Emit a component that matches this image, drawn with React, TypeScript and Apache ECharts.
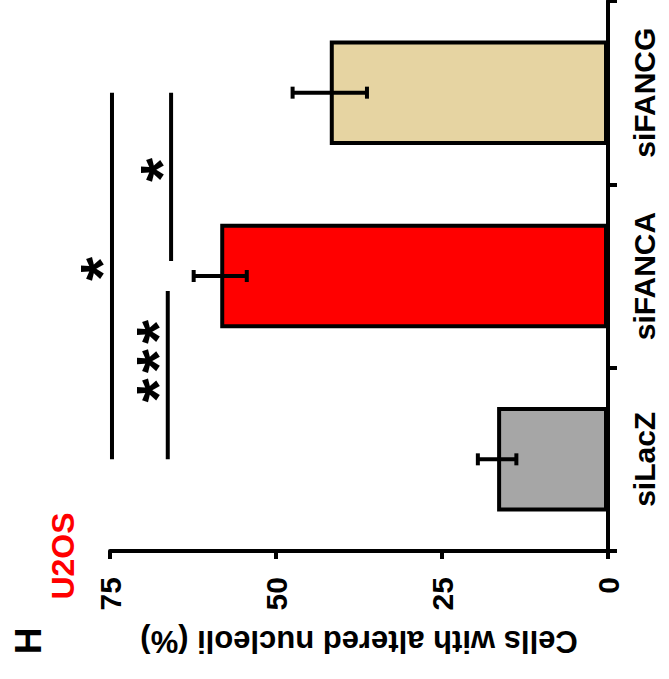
import React, { useEffect, useRef } from "react";
import * as echarts from "echarts";

const categories = ["siLacZ", "siFANCA", "siFANCG"];
const means = [16.7, 58.4, 41.9];
const errors = [2.9, 4.0, 5.6];
const barColors = ["#a6a6a6", "#ff0000", "#e6d4a2"];
const valueMin = 0;
const valueMax = 75;
const valueStep = 25;
// significance brackets: [value level, from category index, to category index]
const bracketLevels = [74.7, 66.3, 65.8];
const bracketFrom = [0, 0, 1];
const bracketTo = [2, 1, 2];
const bracketLabels = ["*", "***", "*"];

const FONT = "'Liberation Sans', Arial, Helvetica, sans-serif";

export default function App() {
  const ref = useRef<HTMLDivElement>(null);
  useEffect(() => {
    if (!ref.current) return;
    const chart = echarts.init(ref.current, null, { renderer: "svg" });
    const errData = means.map((m, i) => [m, i, errors[i]]);
    const brData = bracketLevels.map((v, i) => [v, bracketFrom[i], bracketTo[i], i]);
    chart.setOption({
      animation: false,
      backgroundColor: "#ffffff",
      grid: { left: 110, right: 61, top: 1, bottom: 128, containLabel: false },
      xAxis: {
        type: "value",
        inverse: true,
        min: valueMin,
        max: valueMax,
        interval: valueStep,
        position: "bottom",
        splitLine: { show: false },
        axisLine: { show: true, onZero: false, lineStyle: { color: "#000", width: 4 } },
        axisTick: { show: true, inside: false, length: 8, lineStyle: { color: "#000", width: 4 } },
        axisLabel: {
          rotate: 90,
          margin: 26,
          color: "#000",
          fontSize: 30,
          fontWeight: "bold",
          fontFamily: FONT,
        },
        name: "Cells with altered nucleoli (%)",
        nameLocation: "middle",
        nameRotate: 180,
        nameGap: 75,
        nameTextStyle: { color: "#000", fontSize: 31, fontWeight: "bold", fontFamily: FONT },
      },
      yAxis: {
        type: "category",
        data: categories,
        position: "right",
        axisLine: { show: true, onZero: false, lineStyle: { color: "#000", width: 4 } },
        axisTick: { show: true, inside: false, length: 9, lineStyle: { color: "#000", width: 4 } },
        axisLabel: {
          rotate: 90,
          margin: 21,
          color: "#000",
          fontSize: 30,
          fontWeight: "bold",
          fontFamily: FONT,
        },
        splitLine: { show: false },
      },
      graphic: [
        {
          type: "text",
          x: 28,
          y: 641,
          rotation: Math.PI / 2,
          style: {
            text: "H",
            fill: "#000",
            fontSize: 37,
            fontWeight: "bold",
            fontFamily: FONT,
            align: "center",
            verticalAlign: "middle",
          },
        },
        {
          type: "text",
          x: 63,
          y: 556,
          rotation: Math.PI / 2,
          style: {
            text: "U2OS",
            fill: "#ff0000",
            fontSize: 32,
            fontWeight: "bold",
            fontFamily: FONT,
            align: "center",
            verticalAlign: "middle",
          },
        },
      ],
      series: [
        {
          type: "bar",
          data: means.map((m, i) => ({
            value: m,
            itemStyle: { color: barColors[i], borderColor: "#000", borderWidth: 4 },
          })),
          barWidth: "57%",
          z: 2,
        },
        {
          type: "custom",
          data: errData,
          encode: { x: 0, y: 1 },
          z: 3,
          renderItem: (params: any, api: any) => {
            const v = api.value(0);
            const c = api.value(1);
            const e = api.value(2);
            const lo = api.coord([v - e, c]);
            const hi = api.coord([v + e, c]);
            const cap = 6;
            const style = { stroke: "#000", lineWidth: 4 };
            return {
              type: "group",
              children: [
                { type: "line", shape: { x1: lo[0], y1: lo[1], x2: hi[0], y2: hi[1] }, style },
                { type: "line", shape: { x1: lo[0], y1: lo[1] - cap, x2: lo[0], y2: lo[1] + cap }, style },
                { type: "line", shape: { x1: hi[0], y1: hi[1] - cap, x2: hi[0], y2: hi[1] + cap }, style },
              ],
            };
          },
        },
        {
          type: "custom",
          data: brData,
          encode: { x: 0, y: 1 },
          z: 3,
          renderItem: (params: any, api: any) => {
            const v = api.value(0);
            const f = api.value(1);
            const t = api.value(2);
            const idx = api.value(3);
            const p1 = api.coord([v, f]);
            const p2 = api.coord([v, t]);
            // shorten adjacent brackets at the shared middle bar
            let y1 = p1[1];
            let y2 = p2[1];
            if (Math.abs(t - f) === 1) {
              const gap = 15;
              if (f === 1) y1 -= gap;
              if (t === 1) y2 += gap;
            }
            const label = bracketLabels[idx];
            const shown = label.split("").join("\u200A");
            const midY = (y1 + y2) / 2 - (label.length > 1 ? 14 : 7);
            return {
              type: "group",
              children: [
                {
                  type: "line",
                  shape: { x1: p1[0], y1: y1, x2: p2[0], y2: y2 },
                  style: { stroke: "#000", lineWidth: 4 },
                },
                {
                  type: "text",
                  x: p1[0] - 10,
                  y: midY,
                  rotation: Math.PI / 2,
                  style: {
                    text: shown,
                    fill: "#000",
                    fontSize: 62,
                    fontWeight: "bold",
                    fontFamily: FONT,
                    align: "center",
                    verticalAlign: "middle",
                  },
                },
              ],
            };
          },
        },
      ],
    });
    return () => chart.dispose();
  }, []);
  return (
    <div
      ref={ref}
      style={{ position: "fixed", left: 0, top: 0, width: 669, height: 679 }}
    />
  );
}
